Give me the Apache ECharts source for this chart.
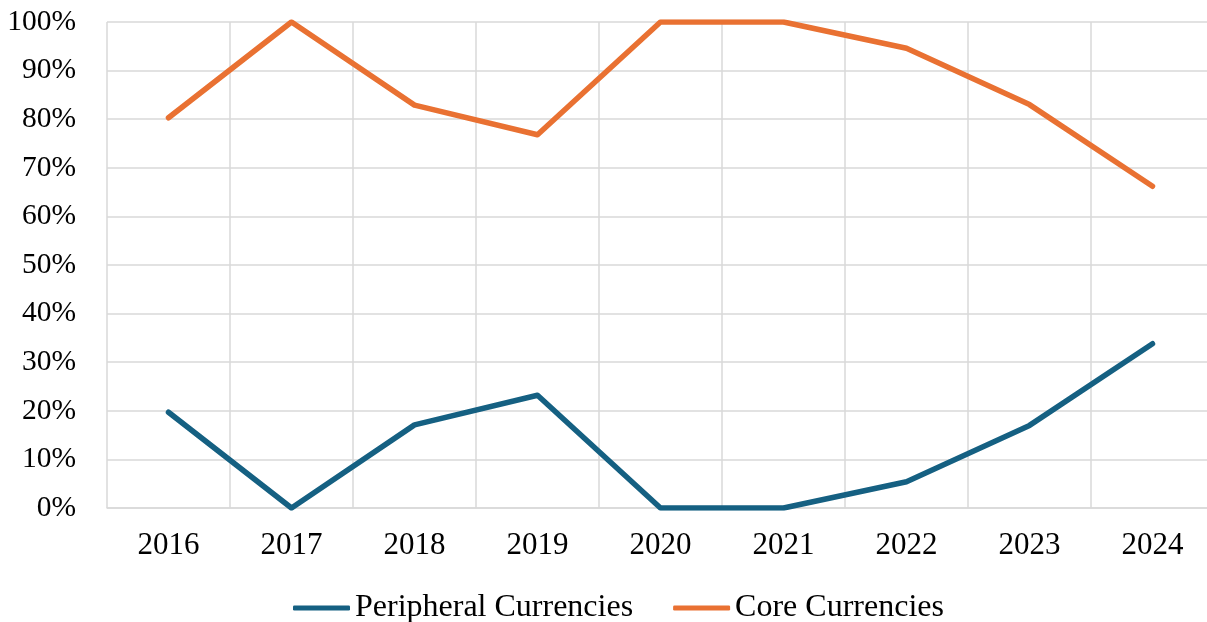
<!DOCTYPE html>
<html lang="en">
<head>
    <meta charset="UTF-8">
    <title>Currency shares</title>
    <script src="https://cdn.jsdelivr.net/npm/echarts@6/dist/echarts.min.js"></script>
    <style>
        html, body { margin: 0; padding: 0; background: #fff; }
        #chart { width: 1207px; height: 622px; }
    </style>
</head>
<body>
    <div id="chart"></div>
    <script>
        const years = ['2016', '2017', '2018', '2019', '2020', '2021', '2022', '2023', '2024'];
        const peripheral = [19.7, 0, 17.1, 23.2, 0, 0, 5.4, 17.0, 33.8];
        const core = [80.3, 100, 82.9, 76.8, 100, 100, 94.6, 83.0, 66.2];

        const font = '"Liberation Serif", "Times New Roman", serif';
        const gridColor = '#d9d9d9';

        const chart = echarts.init(document.getElementById('chart'));
        chart.setOption({
            animation: false,
            grid: {
                left: 107, top: 22, width: 1107, bottom: 114,
                containLabel: false, outerBoundsMode: 'none'
            },
            legend: {
                top: 587,
                left: 288,
                itemWidth: 57,
                itemHeight: 5,
                itemGap: 40,
                icon: 'roundRect',
                textStyle: { fontFamily: font, fontSize: 32, color: '#000' },
                data: ['Peripheral Currencies', 'Core Currencies']
            },
            xAxis: {
                type: 'category',
                data: years,
                boundaryGap: true,
                axisLine: { lineStyle: { color: gridColor, width: 1.5 } },
                axisTick: { show: false },
                axisLabel: { fontFamily: font, fontSize: 31, color: '#000', margin: 22 },
                splitLine: { show: true, lineStyle: { color: gridColor, width: 1.5 } }
            },
            yAxis: {
                type: 'value',
                min: 0,
                max: 100,
                interval: 10,
                axisLine: { show: false },
                axisTick: { show: false },
                axisLabel: {
                    fontFamily: font, fontSize: 29.5, color: '#000', margin: 31,
                    formatter: v => v + '%'
                },
                splitLine: { lineStyle: { color: gridColor, width: 1.5 } }
            },
            series: [
                {
                    name: 'Peripheral Currencies',
                    type: 'line',
                    data: peripheral,
                    showSymbol: false,
                    color: '#156082',
                    lineStyle: { width: 5.5, cap: 'round', join: 'round' }
                },
                {
                    name: 'Core Currencies',
                    type: 'line',
                    data: core,
                    showSymbol: false,
                    color: '#E97132',
                    lineStyle: { width: 5.5, cap: 'round', join: 'round' }
                }
            ]
        });
    </script>
</body>
</html>
